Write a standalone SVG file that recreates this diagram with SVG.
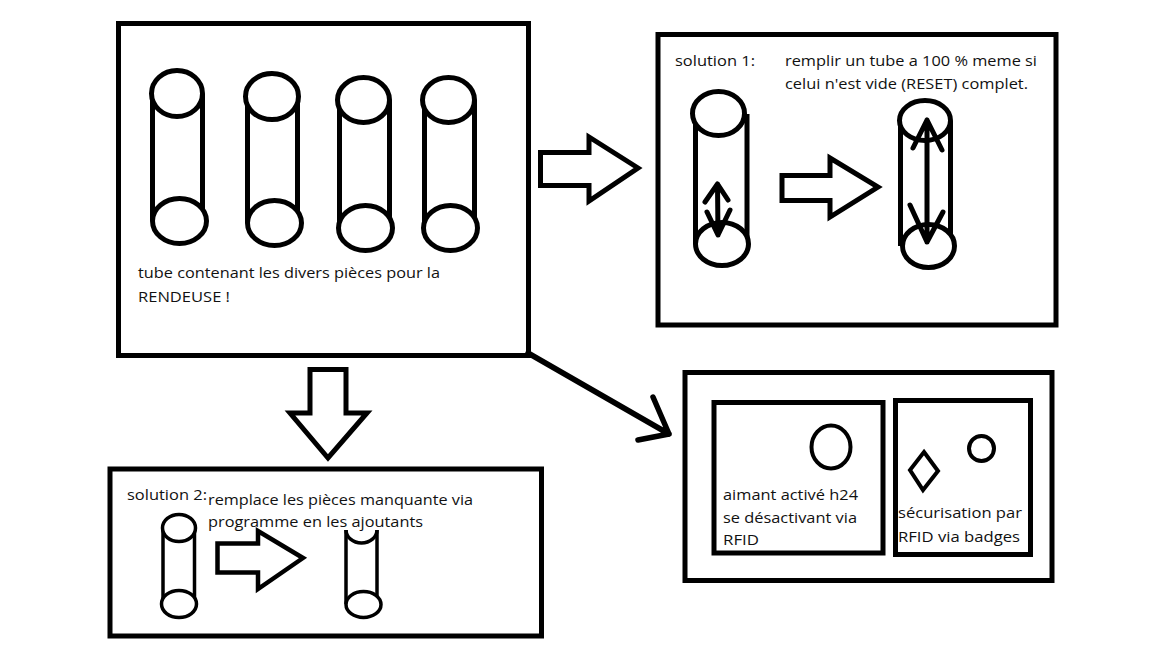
<svg xmlns="http://www.w3.org/2000/svg" width="1152" height="648" viewBox="0 0 1152 648">
<style>
.box{fill:none;stroke:#000;stroke-width:5}
.ln{fill:none;stroke:#000;stroke-width:5;stroke-linecap:butt}
.el{fill:#fff;stroke:#000;stroke-width:5}
.thin{fill:#fff;stroke:#000;stroke-width:3.5}
.thinl{fill:none;stroke:#000;stroke-width:3.5}
.arw{fill:none;stroke:#000;stroke-width:5;stroke-linecap:round;stroke-linejoin:round}
.blk{fill:#fff;stroke:#000;stroke-width:5;stroke-linejoin:miter}
.t{font-family:"Open Sans","Liberation Sans",sans-serif;font-size:15px;fill:#111}
</style>
<rect width="1152" height="648" fill="#fff"/>

<g id="main">
<rect class="box" x="118.5" y="23.5" width="410" height="332"/>
<g id="tube1">
<line class="ln" x1="152.5" y1="94" x2="152.5" y2="221"/><line class="ln" x1="202.5" y1="94" x2="202.5" y2="221"/>
<ellipse class="el" cx="177" cy="93.5" rx="25.5" ry="23"/><ellipse class="el" cx="179.5" cy="221" rx="27" ry="22.5"/>
</g>
<g id="tube2">
<line class="ln" x1="247.5" y1="97" x2="247.5" y2="223"/><line class="ln" x1="297.5" y1="97" x2="297.5" y2="223"/>
<ellipse class="el" cx="272" cy="96.5" rx="26.5" ry="23"/><ellipse class="el" cx="274.5" cy="223" rx="27" ry="22.5"/>
</g>
<g id="tube3">
<line class="ln" x1="339.5" y1="100" x2="339.5" y2="228"/><line class="ln" x1="389.5" y1="100" x2="389.5" y2="228"/>
<ellipse class="el" cx="363.5" cy="100" rx="26" ry="22.5"/><ellipse class="el" cx="365.5" cy="228" rx="27" ry="22.5"/>
</g>
<g id="tube4">
<line class="ln" x1="424.5" y1="100" x2="424.5" y2="228"/><line class="ln" x1="474.5" y1="100" x2="474.5" y2="228"/>
<ellipse class="el" cx="448.5" cy="100" rx="26" ry="22.5"/><ellipse class="el" cx="450.5" cy="228" rx="27" ry="22.5"/>
</g>
<text class="t" x="138" y="278" textLength="302" lengthAdjust="spacingAndGlyphs">tube contenant les divers pièces pour la</text>
<text class="t" x="138" y="302" textLength="92" lengthAdjust="spacingAndGlyphs">RENDEUSE !</text>
</g>

<g id="solution1">
<rect class="box" x="658" y="34.5" width="398" height="290.5"/>
<text class="t" x="675" y="66" textLength="80" lengthAdjust="spacingAndGlyphs">solution 1:</text>
<text class="t" x="785" y="66" textLength="252" lengthAdjust="spacingAndGlyphs">remplir un tube a 100 % meme si</text>
<text class="t" x="785" y="89" textLength="243" lengthAdjust="spacingAndGlyphs">celui n'est vide (RESET) complet.</text>
<g id="s1-tube-before">
<line class="ln" x1="695.5" y1="114" x2="695.5" y2="244"/><line class="ln" x1="747" y1="114" x2="747" y2="244"/>
<ellipse class="el" cx="718.5" cy="113.5" rx="26" ry="22"/><ellipse class="el" cx="722" cy="244" rx="26.5" ry="21.5"/>
<path class="arw" d="M717.5,184 L718,235 M705,202 L717.5,184 L728,200 M707,212 L718,235 L730,210"/>
</g>
<path class="blk" d="M782,175.5 L830,175.5 L830,158 L878,187 L830,217 L830,200.5 L782,200.5 Z"/>
<g id="s1-tube-after">
<line class="ln" x1="900.5" y1="121" x2="900.5" y2="246"/><line class="ln" x1="950.5" y1="121" x2="950.5" y2="246"/>
<ellipse class="el" cx="925" cy="120.5" rx="25.5" ry="20"/><ellipse class="el" cx="928.5" cy="246" rx="26" ry="21.5"/>
<path class="arw" d="M927,120 L927,242 M913,148 L927,120 L942,150 M910,205 L927,242 L943,212"/>
</g>
</g>

<g id="solution2">
<rect class="box" x="110" y="469" width="431.5" height="167"/>
<text class="t" x="127" y="500" textLength="80" lengthAdjust="spacingAndGlyphs">solution 2:</text>
<text class="t" x="208" y="505" textLength="265" lengthAdjust="spacingAndGlyphs">remplace les pièces manquante via</text>
<text class="t" x="208" y="527" textLength="215" lengthAdjust="spacingAndGlyphs">programme en les ajoutants</text>
<g id="s2-tube-before">
<line class="thinl" x1="163" y1="528" x2="163" y2="604"/><line class="thinl" x1="194.5" y1="528" x2="194.5" y2="604"/>
<ellipse class="thin" cx="179" cy="528" rx="16.5" ry="13.5"/><ellipse class="thin" cx="179" cy="604" rx="17.5" ry="13.5"/>
</g>
<path class="blk" style="stroke-width:4.5" d="M217.5,543.5 L258,543.5 L258,531 L303,558 L258,589 L258,572.5 L217.5,572.5 Z"/>
<g id="s2-tube-after">
<line class="thinl" x1="346" y1="530" x2="346" y2="604"/><line class="thinl" x1="377" y1="530" x2="377" y2="604"/>
<path class="thinl" d="M346,530 A15.5,13 0 0 0 377,530"/>
<ellipse class="thin" cx="363.5" cy="604.5" rx="17.5" ry="13"/>
</g>
</g>

<g id="security">
<rect class="box" x="685" y="372.5" width="367" height="208"/>
<g id="magnet">
<rect class="box" x="714" y="402.5" width="169" height="150.5"/>
<ellipse class="thinl" style="stroke-width:4" cx="831" cy="447" rx="19.5" ry="21.5"/>
<text class="t" x="723" y="500" textLength="135" lengthAdjust="spacingAndGlyphs">aimant activé h24</text>
<text class="t" x="723" y="523" textLength="134" lengthAdjust="spacingAndGlyphs">se désactivant via</text>
<text class="t" x="723" y="545" textLength="36" lengthAdjust="spacingAndGlyphs">RFID</text>
</g>
<g id="badges">
<rect class="box" x="895.5" y="400.5" width="135" height="154"/>
<path class="thinl" style="stroke-width:4" d="M924,452 L938,471 L923,490 L910,470 Z"/>
<circle class="thinl" style="stroke-width:4" cx="981.5" cy="448.5" r="12.5"/>
<text class="t" x="898" y="518" textLength="124" lengthAdjust="spacingAndGlyphs">sécurisation par</text>
<text class="t" x="898" y="542" textLength="122" lengthAdjust="spacingAndGlyphs">RFID via badges</text>
</g>
</g>

<g id="connectors">
<path class="blk" d="M540.5,152.5 L589,152.5 L589,137 L638,168 L589,201 L589,185.5 L540.5,185.5 Z"/>
<path class="blk" d="M310,369.5 L346,369.5 L346,413 L367,413 L328,458 L290,413 L310,413 Z"/>
<path class="arw" style="stroke-width:5.5" d="M528,353 L669,434 M653,397 L669,434 L638,440"/>
</g>
</svg>
